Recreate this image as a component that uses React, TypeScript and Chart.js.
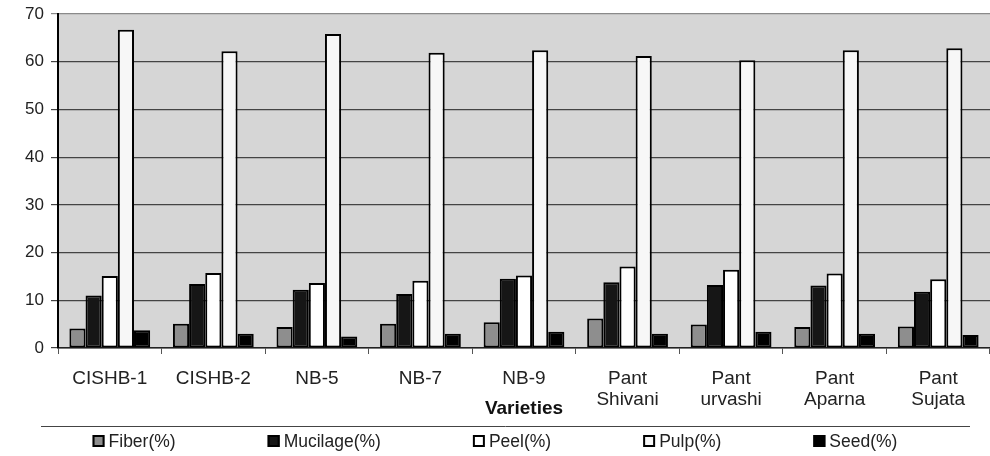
import { useEffect, useRef } from "react";
import { Chart, registerables } from "chart.js";

Chart.register(...registerables);

const categories: (string | string[])[] = [
  "CISHB-1",
  "CISHB-2",
  "NB-5",
  "NB-7",
  "NB-9",
  ["Pant", "Shivani"],
  ["Pant", "urvashi"],
  ["Pant", "Aparna"],
  ["Pant", "Sujata"],
];

const seriesNames = ["Fiber(%)", "Mucilage(%)", "Peel(%)", "Pulp(%)", "Seed(%)"];
const fiber = [4.1, 5.1, 4.4, 5.1, 5.4, 6.2, 4.9, 4.4, 4.5];
const mucilage = [11.0, 13.4, 12.2, 11.3, 14.5, 13.8, 13.2, 13.1, 11.8];
const peel = [15.1, 15.7, 13.6, 14.1, 15.2, 17.1, 16.4, 15.6, 14.4];
const pulp = [66.7, 62.2, 65.8, 61.9, 62.4, 61.2, 60.3, 62.4, 62.8];
const seed = [3.7, 3.0, 2.4, 3.0, 3.4, 3.0, 3.4, 3.0, 2.7];
const seriesColors = ["#8e8e8e", "#161616", "#ffffff", "#f7f7f7", "#000000"];

const yMin = 0;
const yMax = 70;
const yStep = 10;
const xTitle = "Varieties";

const FONT = '"Liberation Sans", Arial, sans-serif';

const plotBgPlugin = {
  id: "plotBg",
  beforeDraw(chart: any) {
    const { ctx, chartArea } = chart;
    ctx.save();
    ctx.fillStyle = "#d6d6d6";
    ctx.fillRect(chartArea.left, chartArea.top, chartArea.right - chartArea.left, chartArea.bottom - chartArea.top);
    ctx.restore();
  },
};

const bottomLegendPlugin = {
  id: "bottomLegend",
  afterDraw(chart: any) {
    const ctx = chart.ctx as CanvasRenderingContext2D;
    ctx.save();
    ctx.strokeStyle = "#444";
    ctx.lineWidth = 1;
    ctx.beginPath();
    ctx.moveTo(41, 426.5);
    ctx.lineTo(970, 426.5);
    ctx.stroke();

    ctx.font = `17.5px ${FONT}`;
    const box = 12;
    const textGap = 4;
    const itemGap = 92;
    const items = chart.data.datasets.map((ds: any) => ({
      label: ds.label as string,
      color: ds.backgroundColor as string,
      w: box + textGap + ctx.measureText(ds.label).width,
    }));
    const total = items.reduce((s: number, it: any) => s + it.w, 0) + itemGap * (items.length - 1);
    let x = chart.width / 2 - total / 2;
    const y = 441;
    ctx.textBaseline = "middle";
    ctx.textAlign = "left";
    for (const it of items) {
      ctx.fillStyle = it.color;
      ctx.fillRect(x, y - box / 2, box, box);
      ctx.strokeStyle = "#000";
      ctx.lineWidth = 2;
      ctx.strokeRect(x + 1, y - box / 2 + 1, box - 2, box - 2);
      ctx.fillStyle = "#222";
      ctx.fillText(it.label, x + box + textGap, y + 1);
      x += it.w + itemGap;
    }
    ctx.restore();
  },
};

export default function App() {
  const ref = useRef<HTMLCanvasElement | null>(null);

  useEffect(() => {
    document.body.style.margin = "0";
    if (!ref.current) return;
    const values = [fiber, mucilage, peel, pulp, seed];
    const chart = new Chart(ref.current, {
      type: "bar",
      data: {
        labels: categories,
        datasets: seriesNames.map((name, i) => ({
          label: name,
          data: values[i],
          backgroundColor: seriesColors[i],
          borderColor: "#000",
          borderWidth: 2,
          borderSkipped: false,
          barPercentage: 1,
          categoryPercentage: 0.78,
        })),
      },
      options: {
        animation: false,
        responsive: false,
        devicePixelRatio: 1,
        layout: { padding: { top: 14, left: 0, right: 0, bottom: 36 } },
        plugins: {
          legend: { display: false },
          tooltip: { enabled: false },
        },
        scales: {
          x: {
            afterFit(scale: any) {
              scale.height = 72;
            },
            grid: {
              display: true,
              drawOnChartArea: false,
              drawTicks: true,
              tickLength: 6,
              color: "#555",
              offset: true,
            },
            border: { display: true, color: "#222", width: 1.5 },
            ticks: {
              color: "#222",
              font: { family: FONT, size: 19, lineHeight: 1.1 },
              padding: 14,
              maxRotation: 0,
              autoSkip: false,
            },
            title: {
              display: true,
              text: xTitle,
              color: "#111",
              font: { family: FONT, size: 19, weight: "bold" },
              padding: { top: 0, bottom: 0 },
            },
          },
          y: {
            min: yMin,
            max: yMax,
            afterFit(scale: any) {
              scale.width = 58;
              scale.paddingTop = 0;
              scale.paddingBottom = 0;
            },
            ticks: {
              stepSize: yStep,
              color: "#222",
              font: { family: FONT, size: 17 },
              padding: 7,
            },
            grid: {
              color: (c: any) => (c.tick && c.tick.value === yMax ? "#8a8a8a" : "#444"),
              lineWidth: 1.2,
              tickLength: 7,
            },
            border: { display: true, color: "#000", width: 2 },
          },
        },
      },
      plugins: [plotBgPlugin, bottomLegendPlugin],
    });
    return () => chart.destroy();
  }, []);

  return <canvas ref={ref} width={990} height={456} style={{ display: "block" }} />;
}
